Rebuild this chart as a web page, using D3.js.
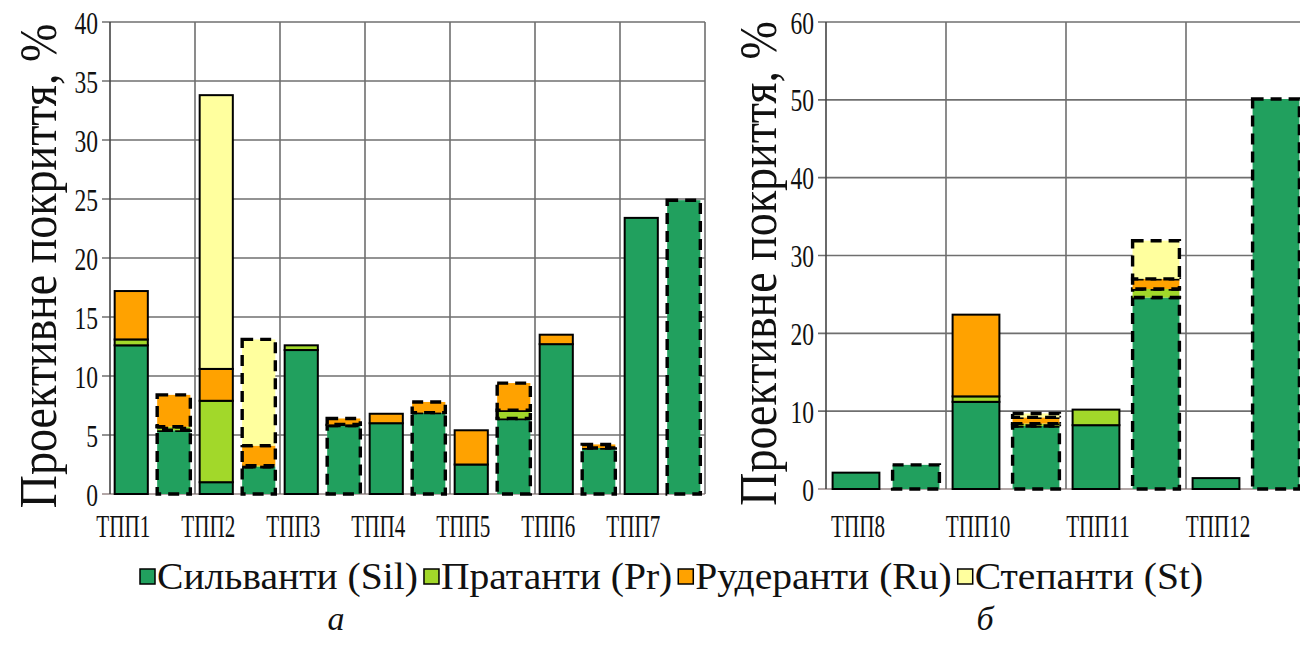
<!DOCTYPE html>
<html>
<head>
<meta charset="utf-8">
<script src="https://cdn.jsdelivr.net/npm/d3@7/dist/d3.min.js"></script>
<style>
  html, body { margin: 0; padding: 0; background: #fff; }
  svg { display: block; }
</style>
</head>
<body>
<svg id="chart" width="1300" height="649"></svg>
<script>
// ---------- DATA ----------
const seriesNames = ["Сильванти (Sil)", "Пратанти (Pr)", "Рудеранти (Ru)", "Степанти (St)"];
const seriesColors = ["#21a05e", "#a2d82a", "#ffa200", "#ffff9e"];

// Panel a
const leftLabels = ["ТПП1", "ТПП2", "ТПП3", "ТПП4", "ТПП5", "ТПП6", "ТПП7"];
const leftSil = [12.6, 5.4, 1.0, 2.3, 12.2, 5.8, 6.0, 6.9, 2.5, 6.4, 12.7, 3.9, 23.4, 24.9];
const leftPr  = [0.5, 0.3, 6.9, 0.1, 0.4, 0.1, 0, 0, 0, 0.7, 0, 0, 0, 0];
const leftRu  = [4.1, 2.7, 2.7, 1.7, 0, 0.5, 0.8, 0.9, 2.9, 2.3, 0.8, 0.3, 0, 0];
const leftSt  = [0, 0, 23.2, 9.0, 0, 0, 0, 0, 0, 0, 0, 0, 0, 0];
const leftTicks = [0, 5, 10, 15, 20, 25, 30, 35, 40];

// Panel б
const rightLabels = ["ТПП8", "ТПП10", "ТПП11", "ТПП12"];
const rightSil = [2.1, 3.1, 11.2, 8.1, 8.2, 24.6, 1.4, 50.1];
const rightPr  = [0, 0, 0.7, 0.3, 2.0, 1.1, 0, 0];
const rightRu  = [0, 0, 10.5, 0.8, 0, 1.3, 0, 0];
const rightSt  = [0, 0, 0, 0.5, 0, 4.9, 0, 0];
const rightTicks = [0, 10, 20, 30, 40, 50, 60];

const yTitle = "Проективне покриття, %";
const panelLetters = ["а", "б"];

// ---------- DRAW ----------
const FONT = "'Liberation Serif', 'Times New Roman', serif";
const svg = d3.select("#chart");

// text placed at (x,y) with optional rotation and anisotropic scale
function stext(parent, x, y, s, size, sc, anchor, rot) {
  const g = parent.append("g")
    .attr("transform", `translate(${x},${y})` + (rot ? ` rotate(${rot})` : "") + ` scale(${sc[0]},${sc[1]})`);
  return g.append("text").attr("x", 0).attr("y", 0)
    .style("font-family", FONT).attr("fill", "#111")
    .attr("font-size", size).attr("text-anchor", anchor).text(s);
}

function panel(opt) {
  const n = opt.sil.length;
  const x = d3.scaleBand().domain(d3.range(n)).range([opt.x0, opt.x1])
    .paddingInner(0.22).paddingOuter(0.11);
  const y = d3.scaleLinear().domain([0, opt.ymax]).range([opt.y0, opt.y1]);
  const g = svg.append("g");

  // horizontal gridlines (with outward tick stubs)
  g.selectAll(".hg").data(opt.ticks).join("line")
    .attr("x1", opt.x0 - 8).attr("x2", opt.x1)
    .attr("y1", d => y(d)).attr("y2", d => y(d))
    .attr("stroke", d => d === 0 ? "#9a8a8a" : "#6f6f6f").attr("stroke-width", 1.6);

  // vertical gridlines every 2 categories
  const vg = d3.range(0, n / 2 + 1).map(k => opt.x0 + k * 2 * x.step());
  g.selectAll(".vg").data(vg).join("line")
    .attr("x1", d => d).attr("x2", d => d)
    .attr("y1", y(opt.ymax)).attr("y2", y(0))
    .attr("stroke", (d, i) => i === 0 ? "#444" : "#6f6f6f").attr("stroke-width", 1.6);

  // y axis tick labels (positions from the axis generator's scale)
  const ax = d3.axisLeft(y).tickValues(opt.ticks).tickSize(0);
  const axg = g.append("g").attr("transform", `translate(${opt.x0},0)`).call(ax);
  axg.select(".domain").remove();
  axg.selectAll(".tick text").remove();
  axg.selectAll(".tick").each(function (d) {
    stext(d3.select(this), -12, 11, d, 31, [0.76, 1], "end");
  });

  // stacked bars
  const series = [opt.sil, opt.pr, opt.ru, opt.st];
  for (let i = 0; i < n; i++) {
    const dashed = i % 2 === 1;
    let base = 0;
    series.forEach((arr, s) => {
      const v = arr[i];
      if (!v) return;
      const yTop = y(base + v), yBot = y(base);
      g.append("rect")
        .attr("x", x(i)).attr("width", x.bandwidth())
        .attr("y", yTop).attr("height", yBot - yTop)
        .attr("fill", seriesColors[s])
        .attr("stroke", "#000")
        .attr("stroke-width", dashed ? 3.4 : 2)
        .attr("stroke-dasharray", dashed ? "11,7" : null);
      base += v;
    });
  }

  // x labels (every other category)
  opt.labels.forEach((d, k) => {
    stext(g, x(2 * k) + x.bandwidth() / 2 + opt.labelShift, 537, d, 32, [0.66, 1], "middle");
  });

  // y title (rotated; stretched across its height)
  stext(svg, opt.titleX, (opt.y0 + opt.y1) / 2 + 8, yTitle, 46, [1, 1.15], "middle", -90);
}

panel({ sil: leftSil, pr: leftPr, ru: leftRu, st: leftSt, labels: leftLabels,
        ticks: leftTicks, ymax: 40, x0: 110, x1: 705, y0: 494, y1: 22,
        labelShift: -8, titleX: 56 });
panel({ sil: rightSil, pr: rightPr, ru: rightRu, st: rightSt, labels: rightLabels,
        ticks: rightTicks, ymax: 60, x0: 826, x1: 1306, y0: 489, y1: 22,
        labelShift: 2, titleX: 776 });

// legend
const leg = svg.append("g");
let lx = 140;
const legSx = 1.07;
seriesNames.forEach((name, i) => {
  leg.append("rect").attr("x", lx).attr("y", 569).attr("width", 15).attr("height", 15)
    .attr("fill", seriesColors[i]).attr("stroke", "#000").attr("stroke-width", 1.5);
  const t = stext(leg, lx + 17, 589, name, 37, [legSx, 1], "start");
  lx += 17 + t.node().getComputedTextLength() * legSx + 6;
});

// panel letters
stext(svg, 336, 630, panelLetters[0], 34, [1, 1], "middle").attr("font-style", "italic");
stext(svg, 985, 630, panelLetters[1], 34, [1, 1], "middle").attr("font-style", "italic");
</script>
</body>
</html>
